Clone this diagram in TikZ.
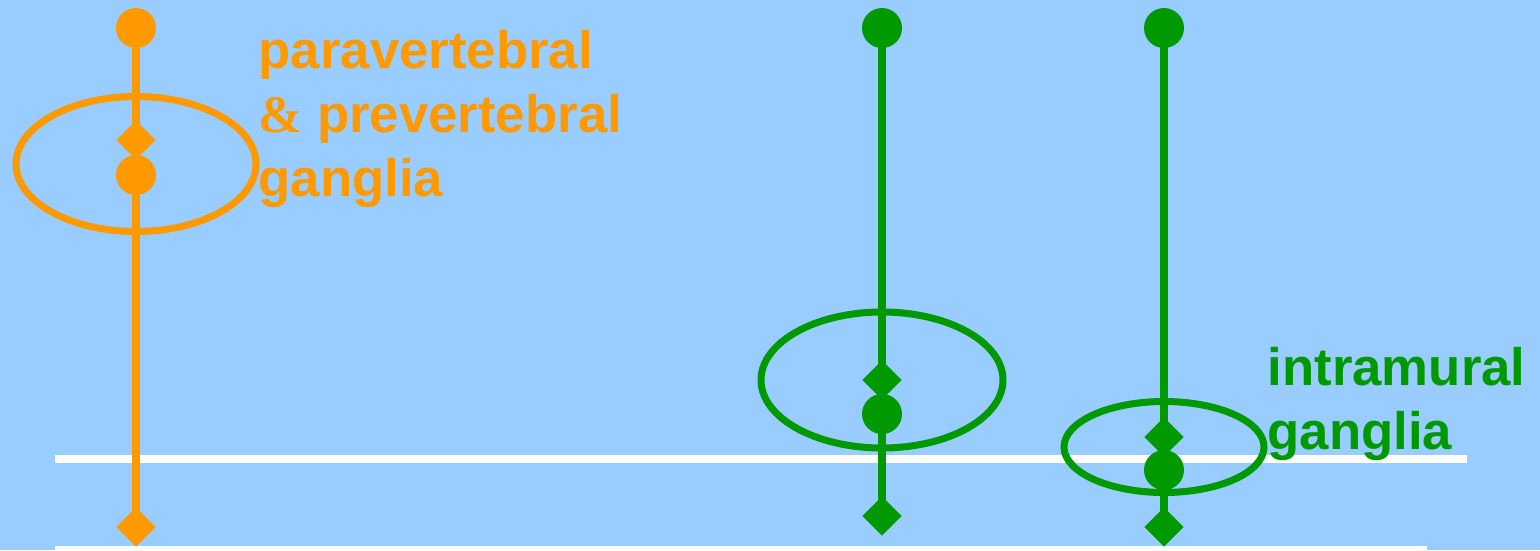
\documentclass[tikz,border=0pt]{standalone}
\usepackage{fontspec}
\setmainfont{Liberation Sans}
\newfontfamily\ampfont{Liberation Serif}
\usetikzlibrary{shapes.geometric}
\definecolor{SlideBlue}{HTML}{99CCFF}
\definecolor{SympOrange}{HTML}{FF9900}
\definecolor{ParaGreen}{HTML}{009900}

\begin{document}
\begin{tikzpicture}[
  nerve/.style={line width=0.08cm},
  soma/.style={circle,inner sep=0pt,minimum size=0.40cm},
  ending/.style={diamond,inner sep=0pt,minimum size=0.40cm},
  ganglion/.style={line width=0.07cm},
  wall/.style={draw=white,line width=0.08cm},
  label/.style={font=\fontsize{15}{18.2}\selectfont\bfseries,align=left,anchor=north west,inner sep=0pt}
]
\fill[SlideBlue] (0,0) rectangle (15.4,5.5);
\useasboundingbox (0,0) rectangle (15.4,5.5);

\draw[wall] (0.55,0.91) -- (14.67,0.91);
\draw[wall] (0.55,0) -- (14.27,0);

% sympathetic: ganglion near the spine
\node[soma,fill=SympOrange] (cns1) at (1.36,5.22) {};
\node[ending,fill=SympOrange] (syn1) at (1.36,4.10) {};
\node[soma,fill=SympOrange] (gang1) at (1.36,3.75) {};
\node[ending,fill=SympOrange] (eff1) at (1.36,0.23) {};
\draw[nerve,SympOrange] (cns1.center) -- (syn1.center) (gang1.center) -- (eff1.center);
\draw[ganglion,SympOrange] (1.36,3.86) ellipse [x radius=1.20cm,y radius=0.675cm];
\node[label,text=SympOrange] (paralbl) at (2.58,5.20) {paravertebral\\{\ampfont\bfseries\&} prevertebral\\ganglia};

% parasympathetic: ganglia near or in the organ
\node[soma,fill=ParaGreen] (cns2) at (8.82,5.22) {};
\node[ending,fill=ParaGreen] (syn2) at (8.82,1.70) {};
\node[soma,fill=ParaGreen] (gang2) at (8.82,1.36) {};
\node[ending,fill=ParaGreen] (eff2) at (8.82,0.34) {};
\draw[nerve,ParaGreen] (cns2.center) -- (syn2.center) (gang2.center) -- (eff2.center);
\draw[ganglion,ParaGreen] (8.82,1.70) ellipse [x radius=1.21cm,y radius=0.68cm];

\node[soma,fill=ParaGreen] (cns3) at (11.64,5.22) {};
\node[ending,fill=ParaGreen] (syn3) at (11.64,1.13) {};
\node[soma,fill=ParaGreen] (gang3) at (11.64,0.80) {};
\node[ending,fill=ParaGreen] (eff3) at (11.64,0.23) {};
\draw[nerve,ParaGreen] (cns3.center) -- (syn3.center) (gang3.center) -- (eff3.center);
\draw[ganglion,ParaGreen] (11.64,1.03) ellipse [x radius=1.00cm,y radius=0.455cm];
\node[label,text=ParaGreen] (intralbl) at (12.67,2.03) {intramural\\ganglia};
\end{tikzpicture}
\end{document}
